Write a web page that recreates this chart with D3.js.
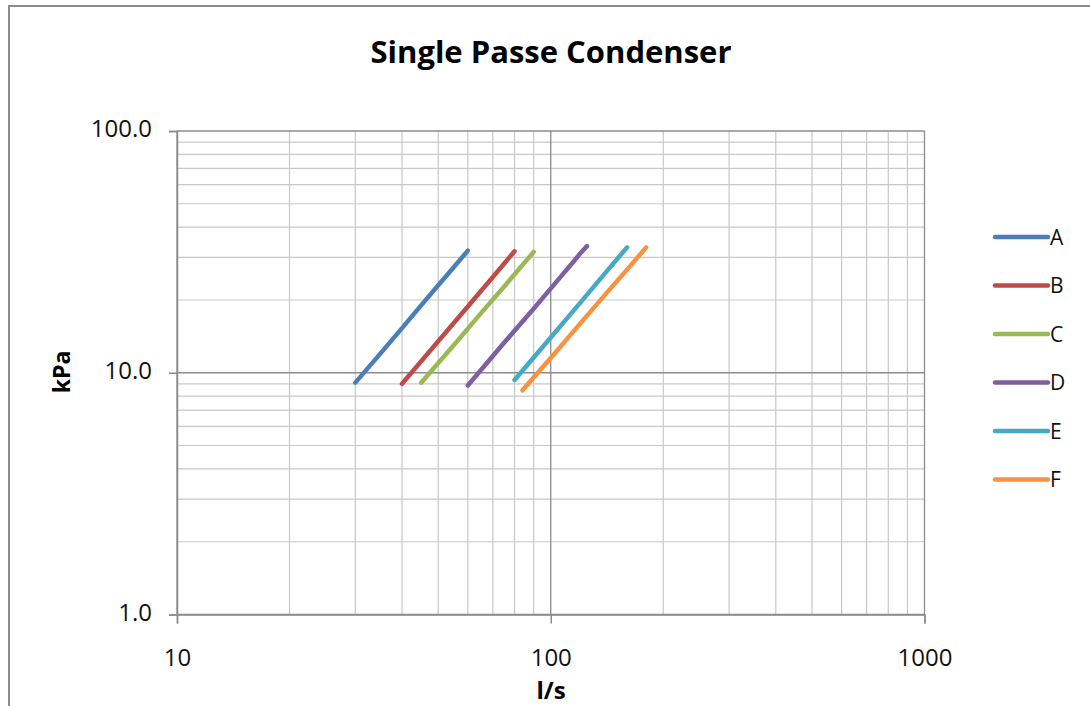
<!DOCTYPE html>
<html>
<head>
<meta charset="utf-8">
<script src="https://cdn.jsdelivr.net/npm/d3@7"></script>
<style>
  body { margin: 0; background: #fff; }
  svg { display: block; }
  text { font-family: "Open Sans", "Liberation Sans", sans-serif; }
</style>
</head>
<body>
<svg id="chart" width="1090" height="706"></svg>
<script>
// ---- data ----
const seriesNames = ["A", "B", "C", "D", "E", "F"];
const seriesColors = ["#4a7ebb", "#be4b48", "#98b954", "#7d60a0", "#46aac5", "#f69240"];
const flowA = [30, 35, 40, 45, 50, 55, 60];
const kpaA  = [9.1, 12.0, 15.3, 19.0, 23.0, 27.3, 32.0];
const flowB = [40, 50, 60, 70, 80];
const kpaB  = [9.0, 13.5, 18.8, 24.9, 31.8];
const flowC = [45, 55, 65, 75, 90];
const kpaC  = [9.1, 13.0, 17.6, 22.7, 31.6];
const flowD = [60, 75, 90, 105, 115, 120, 125];
const kpaD  = [8.85, 13.3, 18.4, 24.4, 28.8, 31.2, 33.4];
const flowE = [80, 100, 120, 140, 160];
const kpaE  = [9.34, 14.0, 19.5, 25.9, 33.0];
const flowF = [84, 100, 120, 140, 160, 180];
const kpaF  = [8.46, 11.5, 16.0, 21.1, 26.7, 33.0];
const xTickLabels = ["10", "100", "1000"];
const yTickLabels = ["1.0", "10.0", "100.0"];
const xTickValues = [10, 100, 1000];
const yTickValues = [1, 10, 100];
const title = "Single Passe Condenser";
const xTitle = "l/s";
const yTitle = "kPa";

const flows = [flowA, flowB, flowC, flowD, flowE, flowF];
const kpas = [kpaA, kpaB, kpaC, kpaD, kpaE, kpaF];
const series = seriesNames.map((n, i) => ({
  name: n, color: seriesColors[i],
  pts: flows[i].map((f, j) => ({ x: f, y: kpas[i][j] }))
}));

// ---- layout ----
const svg = d3.select("#chart");
const L = 177, R = 924.5, T = 131, B = 614.5;
const x = d3.scaleLog().domain([10, 1000]).range([L, R]);
const y = d3.scaleLog().domain([1, 100]).range([B, T]);

// outer frame
svg.append("path")
  .attr("d", `M9,706 L9,6 L1090,6`)
  .attr("fill", "none").attr("stroke", "#8c8c8c").attr("stroke-width", 2);

// title
svg.append("text").attr("x", 551).attr("y", 63).attr("text-anchor", "middle")
  .attr("font-size", 30).attr("font-weight", "bold").attr("fill", "#000")
  .attr("textLength", 361).attr("lengthAdjust", "spacingAndGlyphs")
  .text(title);

// grid
const minorX = [];
for (let d = 10; d < 1000; d *= 10) for (let k = 2; k <= 9; k++) minorX.push(d * k);
const minorY = [];
for (let d = 1; d < 100; d *= 10) for (let k = 2; k <= 9; k++) minorY.push(d * k);

const g = svg.append("g");
g.selectAll(".vx").data(minorX).join("line")
  .attr("x1", d => x(d)).attr("x2", d => x(d)).attr("y1", T).attr("y2", B)
  .attr("stroke", "#c8c8c8").attr("stroke-width", 1.2);
g.selectAll(".hy").data(minorY).join("line")
  .attr("y1", d => y(d)).attr("y2", d => y(d)).attr("x1", L).attr("x2", R)
  .attr("stroke", "#c8c8c8").attr("stroke-width", 1.2);
// major grid
g.selectAll(".mx").data(xTickValues).join("line")
  .attr("x1", d => x(d)).attr("x2", d => x(d)).attr("y1", T).attr("y2", B)
  .attr("stroke", "#8c8c8c").attr("stroke-width", 1.3);
g.selectAll(".my").data(yTickValues).join("line")
  .attr("y1", d => y(d)).attr("y2", d => y(d)).attr("x1", L).attr("x2", R)
  .attr("stroke", "#8c8c8c").attr("stroke-width", 1.3);

// axes
const xAxis = d3.axisBottom(x).tickValues(xTickValues)
  .tickFormat((d, i) => xTickLabels[i]).tickSize(9);
const yAxis = d3.axisLeft(y).tickValues(yTickValues)
  .tickFormat((d, i) => yTickLabels[i]).tickSize(8).tickPadding(17);

const gx = svg.append("g").attr("transform", `translate(0,${B})`).call(xAxis);
const gy = svg.append("g").attr("transform", `translate(${L},0)`).call(yAxis);
[gx, gy].forEach(a => {
  a.select(".domain").attr("stroke", "#8c8c8c").attr("stroke-width", 1.5);
  a.selectAll(".tick line").attr("stroke", "#8c8c8c").attr("stroke-width", 1.5);
  a.selectAll(".tick text").attr("font-size", 24).attr("fill", "#111")
    .attr("font-family", "\"Open Sans\", sans-serif");
});
gx.selectAll(".tick text").attr("y", 51.5).attr("dy", 0);
gy.selectAll(".tick text").attr("dy", "0.24em");

// axis titles
svg.append("text").attr("x", 551).attr("y", 699).attr("text-anchor", "middle")
  .attr("font-size", 24).attr("font-weight", "bold").text(xTitle);
svg.append("text").attr("transform", "translate(70,372) rotate(-90)")
  .attr("text-anchor", "middle").attr("font-size", 23).attr("font-weight", "bold").text(yTitle);

// lines
const line = d3.line().x(d => x(d.x)).y(d => y(d.y));
svg.append("g").selectAll("path").data(series).join("path")
  .attr("d", d => line(d.pts))
  .attr("fill", "none").attr("stroke", d => d.color)
  .attr("stroke-width", 4.5).attr("stroke-linecap", "round").attr("stroke-linejoin", "round");

// legend
const lg = svg.append("g").selectAll("g").data(series).join("g")
  .attr("transform", (d, i) => `translate(995,${237 + i * 48.5})`);
lg.append("line").attr("x1", 0).attr("x2", 53)
  .attr("stroke", d => d.color).attr("stroke-width", 4.5).attr("stroke-linecap", "round");
lg.append("text").attr("x", 55).attr("dy", "0.36em").attr("font-size", 21)
  .attr("fill", "#111").text(d => d.name);
</script>
</body>
</html>
